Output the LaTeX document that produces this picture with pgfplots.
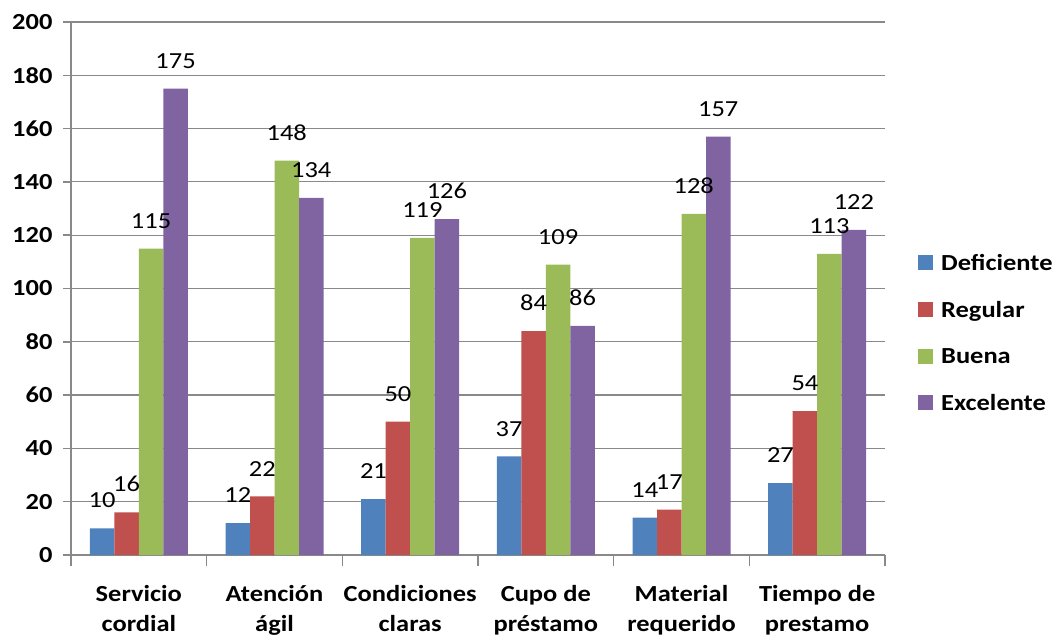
\documentclass[border=0pt]{standalone}
\usepackage{fontspec}
\setmainfont{Carlito}[FakeStretch=1.15]
\usepackage{pgfplots}
\pgfplotsset{compat=1.18}
\usetikzlibrary{calc}

\definecolor{cdef}{HTML}{4F81BD}
\definecolor{creg}{HTML}{C0504D}
\definecolor{cbue}{HTML}{9BBB59}
\definecolor{cexc}{HTML}{8064A2}
\definecolor{cgrid}{HTML}{898989}

\newcommand{\bigf}{\fontsize{23}{30}\selectfont}

\begin{document}
\begin{tikzpicture}
\begin{axis}[
  scale only axis,
  width=814pt, height=533pt,
  ybar=0pt, bar width=24.5pt,
  xmin=-0.5, xmax=5.5,
  ymin=0, ymax=200,
  ytick={0,20,...,200},
  xtick={0,1,2,3,4,5},
  xticklabels={{Servicio\\cordial},{Atención\\ágil},{Condiciones\\claras},{Cupo de\\préstamo},{Material\\requerido},{Tiempo de\\prestamo}},
  minor xtick={-0.5,0.5,...,5.5},
  major x tick style={draw=none},
  tick align=outside,
  major tick length=8pt,
  minor tick length=11pt,
  tick style={cgrid, line width=1.5pt},
  axis x line*=bottom, axis y line*=left,
  axis line style={cgrid, line width=2pt},
  ymajorgrids, grid style={cgrid, line width=1.2pt},
  /pgf/number format/assume math mode=true,
  tick label style={font=\bigf\bfseries},
  yticklabel style={xshift=-7pt},
  xticklabel style={align=center, yshift=-19pt},
  nodes near coords,
  every node near coord/.append style={font=\bigf, inner sep=0pt, anchor=south, yshift=20pt, text=black},
  legend style={draw=none, fill=none, at={(1.0405,0.4175)}, anchor=west,
    font=\bigf\bfseries, row sep=31pt, inner sep=0pt,
    nodes={inner sep=0pt, text depth=0pt}},
  legend cell align=left,
  legend image code/.code={\fill[#1] (0pt,-7.5pt) rectangle (15pt,7.5pt); \path (23pt,0pt);},
]
\addplot[fill=cdef, draw=none] coordinates {(0,10) (1,12) (2,21) (3,37) (4,14) (5,27)};
\addlegendentry{Deficiente}
\addplot[fill=creg, draw=none] coordinates {(0,16) (1,22) (2,50) (3,84) (4,17) (5,54)};
\addlegendentry{Regular}
\addplot[fill=cbue, draw=none] coordinates {(0,115) (1,148) (2,119) (3,109) (4,128) (5,113)};
\addlegendentry{Buena}
\addplot[fill=cexc, draw=none] coordinates {(0,175) (1,134) (2,126) (3,86) (4,157) (5,122)};
\addlegendentry{Excelente}
\coordinate (bl) at (rel axis cs:0,0);
\coordinate (tr) at (rel axis cs:1,1);
\end{axis}
\pgfresetboundingbox
\path ($(bl)+(-71pt,-84pt)$) rectangle ($(tr)+(174pt,22pt)$);
\end{tikzpicture}
\end{document}
